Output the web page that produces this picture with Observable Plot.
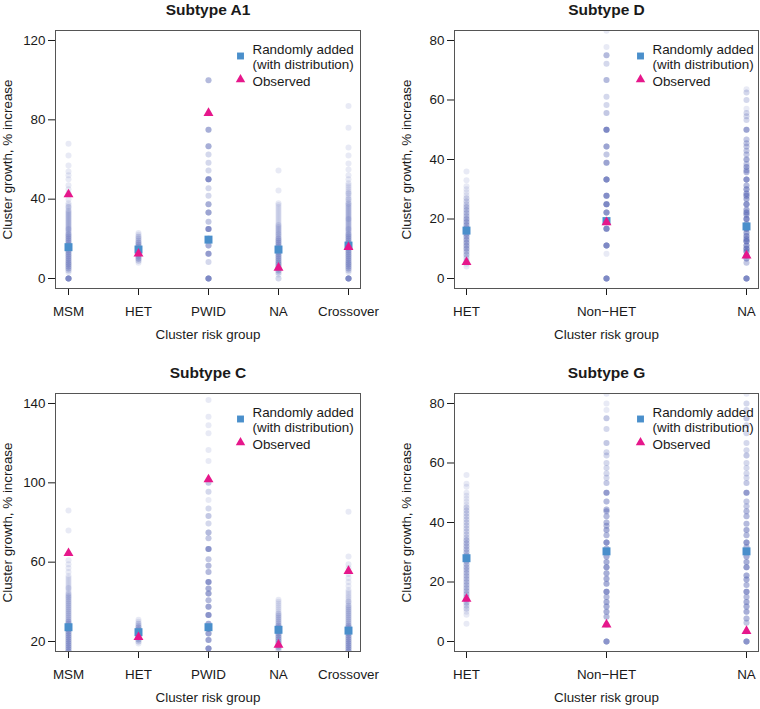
<!DOCTYPE html>
<html><head><meta charset="utf-8">
<script src="https://cdn.jsdelivr.net/npm/d3@7"></script>
<script src="https://cdn.jsdelivr.net/npm/@observablehq/plot@0.6"></script>
<style>
body{margin:0;background:#fff;}
#wrap{position:relative;width:760px;height:709px;overflow:hidden;background:#fff;}
#wrap > div{position:absolute;}
</style></head><body><div id="wrap"></div>
<script>
// ---------- Subtype A1 ----------
const A1_cats = ["MSM","HET","PWID","NA","Crossover"];
const A1_mean = [15.8, 14.6, 19.6, 14.6, 16.6];
const A1_obs  = [42.4, 12.5, 83.4, 5.4, 15.8];
const A1_ticks = [0, 40, 80, 120];
// [value, count] pairs of the randomly added simulations
const A1_MSM = [[0,10],[3,1],[4,2],[5,3],[6,3],[7,3],[8,3],[9,3],[10,3],[11,3],[12,3],[13,3],[14,3],[15,3],[16,3],[17,3],[18,3],[19,3],[20,3],[21,3],[22,3],[23,2],[24,2],[25,3],[26,2],[27,2],[28,2],[29,2],[30,2],[31,2],[32,2],[33,2],[34,2],[35,1],[36,2],[37,1],[38,1],[40,1],[43,1],[45,1],[47,1],[50,1],[52,1],[54,1],[57,1],[62,1],[68,1]];
const A1_HET = [[8,1],[9,2],[10,3],[11,3],[12,3],[13,3],[14,3],[15,3],[16,3],[17,3],[18,3],[19,2],[20,2],[21,2],[22,1],[23,1]];
const A1_PWID = [[0,10],[8.3,2],[12.5,7],[16.7,5],[20,5],[25,9],[28.6,3],[33.3,6],[37.5,5],[41.7,2],[45.5,2],[50,9],[54.5,2],[58.3,2],[62.5,2],[66.7,5],[75,5],[83.3,1],[100,4]];
const A1_NA = [[0,2],[2,1],[3,2],[4,3],[5,3],[6,3],[7,3],[8,3],[9,3],[10,3],[11,3],[12,3],[13,3],[14,3],[15,3],[16,3],[17,3],[18,3],[19,3],[20,3],[21,2],[22,2],[23,2],[24,2],[25,2],[26,2],[27,2],[28,1],[29,1],[30,1],[31,1],[32,1],[33,1],[34,1],[35,1],[36,1],[37,1],[38,1],[44.4,1],[54.5,1]];
const A1_Cross = [[0,10],[3,1],[4,2],[5,3],[6,3],[7,3],[8,3],[9,3],[10,3],[11,3],[12,3],[13,3],[14,3],[15,3],[16,3],[17,3],[18,3],[19,3],[20,3],[21,3],[22,3],[23,2],[24,2],[25,3],[26,2],[27,2],[28,2],[29,2],[30,3],[31,2],[32,2],[33,2],[34,2],[35,2],[36,2],[37,2],[38,2],[39,1],[40,2],[41,1],[42,1],[43,2],[44,1],[45,1],[46,1],[47,1],[48,1],[50,1],[52,1],[55,1],[58,1],[62,1],[66,1],[76,1],[87,1]];

// ---------- Subtype D ----------
const D_cats = ["HET","Non\u2212HET","NA"];
const D_mean = [16.1, 19.3, 17.5];
const D_obs  = [5.5, 18.9, 7.7];
const D_ticks = [0, 20, 40, 60, 80];
const D_HET = [[4,1],[5,1],[6,2],[7,2],[8,3],[9,3],[10,4],[11,4],[12,4],[13,4],[14,4],[15,4],[16,4],[17,4],[18,4],[19,4],[20,4],[21,3],[22,3],[23,3],[24,3],[25,2],[26,2],[27,2],[28,1],[29,1],[30,1],[31,1],[33,1],[36,1]];
const D_NonHET = [[0,10],[8.3,1],[11.1,10],[16.7,10],[19.4,6],[22.2,8],[25,10],[27.8,9],[33.3,10],[38.9,6],[41.7,3],[44.4,6],[50,10],[55.6,3],[58.3,2],[61.1,2],[66.7,4],[72.2,2],[75,4],[77.8,1],[83.3,1]];
const D_NA = [[0,10],[5.3,3],[6.7,5],[7.7,4],[9.1,6],[10,8],[11.1,6],[12.5,8],[13.3,6],[14.3,6],[15.4,5],[16.7,8],[17.6,5],[18.2,5],[20,9],[21.4,5],[22.2,6],[23.1,5],[25,8],[26.7,5],[27.8,6],[28.6,5],[30,6],[31.3,4],[33.3,8],[35.7,4],[36.4,4],[37.5,5],[38.5,3],[40,5],[41.7,3],[42.9,3],[44.4,3],[45.5,3],[46.7,3],[50,6],[53.3,2],[54.5,2],[55.6,2],[57.1,1],[60,2],[62.5,2],[63.6,1]];

// ---------- Subtype C ----------
const C_cats = ["MSM","HET","PWID","NA","Crossover"];
const C_mean = [27.2, 24.7, 27.2, 25.9, 25.5];
const C_obs  = [64.5, 22.2, 101.7, 18.3, 55.5];
const C_ticks = [20, 60, 100, 140];
const C_MSM = [[15,3],[16,3],[17,3],[18,3],[19,3],[20,3],[21,3],[22,3],[23,3],[24,3],[25,3],[26,3],[27,3],[28,3],[29,3],[30,3],[31,2],[32,2],[33,2],[34,2],[35,2],[36,2],[37,2],[38,2],[39,2],[40,2],[41,2],[42,2],[43,2],[44,2],[45,1],[46,1],[47,2],[48,1],[49,1],[50,1],[51,1],[52,1],[53,1],[55,1],[57,1],[59,1],[61,1],[76,1],[86,1]];
const C_HET = [[19,1],[20,2],[21,3],[22,3],[23,3],[24,3],[25,3],[26,3],[27,3],[28,2],[29,2],[30,1],[31,1]];
const C_PWID = [[16.5,8],[20.7,6],[24,6],[26.5,8],[29,5],[33.3,8],[37.5,6],[40.8,4],[44.2,6],[46.7,5],[50,8],[55,4],[58.2,4],[61.5,3],[66.7,8],[72,3],[75,4],[79.5,2],[83.3,3],[87,2],[91.3,1],[95.5,2],[100,3],[111,1],[116.5,1],[125,1],[129,1],[133.3,1],[141.7,1]];
const C_NA = [[16,2],[17,3],[18,3],[19,3],[20,3],[21,3],[22,3],[23,3],[24,3],[25,3],[26,3],[27,3],[28,3],[29,2],[30,2],[31,2],[32,2],[33,2],[34,2],[35,1],[36,1],[37,1],[38,1],[39,1],[40,1],[41,1]];
const C_Cross = [[15,3],[16,3],[17,3],[18,3],[19,3],[20,3],[21,3],[22,3],[23,3],[24,3],[25,3],[26,3],[27,3],[28,3],[29,2],[30,2],[31,2],[32,2],[33,2],[34,2],[35,2],[36,2],[37,2],[38,2],[39,1],[40,2],[41,1],[42,1],[43,1],[44,1],[45,1],[46,1],[48,1],[50,1],[52,1],[54,1],[57,1],[59,1],[62.8,1],[85.4,1]];

// ---------- Subtype G ----------
const G_cats = ["HET","Non\u2212HET","NA"];
const G_mean = [28.0, 30.3, 30.3];
const G_obs  = [14.3, 5.7, 3.5];
const G_ticks = [0, 20, 40, 60, 80];
const G_HET = [[6,1],[9,1],[10,1],[11,2],[12,2],[13,3],[14,3],[15,3],[16,3],[17,3],[18,3],[19,3],[20,3],[21,3],[22,3],[23,3],[24,3],[25,3],[26,3],[27,3],[28,3],[29,3],[30,3],[31,3],[32,3],[33,3],[34,3],[35,2],[36,2],[37,2],[38,2],[39,2],[40,2],[41,2],[42,2],[43,2],[44,2],[45,2],[46,1],[47,1],[48,1],[49,1],[50,1],[52,1],[53,1],[56,1]];
const G_NonHET = [[0,8],[5.6,2],[8.3,4],[10,5],[11.8,5],[13.3,5],[15,4],[16.7,8],[19.4,5],[21.1,5],[22.9,5],[25,7],[26.7,5],[28.6,5],[30.3,4],[31.3,4],[33.3,8],[35.7,4],[37.5,5],[38.9,4],[40,4],[42.1,4],[43.8,4],[44.4,4],[47.1,4],[50,7],[53.3,3],[55,2],[56.5,2],[58.3,2],[60,2],[62.5,2],[63.6,2],[66.7,3],[71.4,2],[75,3],[77.8,1],[80,1],[83.3,1]];
const G_NA = [[0,8],[3.3,1],[6.3,3],[7.7,4],[10,5],[11.8,5],[13.3,5],[15,4],[16.7,7],[19,4],[20.8,5],[22.2,5],[25,7],[26.7,5],[28.6,5],[31.8,4],[33.3,7],[35.7,4],[37.5,5],[39.6,4],[42.1,4],[43.8,4],[45.5,3],[47.1,3],[50,7],[53.3,3],[55,2],[56.5,2],[58.3,2],[60,2],[62.5,3],[64.3,2],[66.7,2],[70,2],[72.7,2],[75,3],[77.8,2],[80,2],[83.3,1]];

const DOT = "#5a6cb8", BLUE = "#4a8fcb", PINK = "#e6178b", FRAME = "#555555", INK = "#1a1a1a";
const FONT = "'Liberation Sans', Arial, Helvetica, sans-serif";
const FS = 13.4;

function panel(o) {
  const rows = o.cats.flatMap((c, i) => o.dist[i].flatMap(([v, n]) => Array.from({length: n}, () => ({cat: c, v}))));
  const sum = o.cats.map((c, i) => ({cat: c, mean: o.mean[i], obs: o.obs[i]}));
  const txt = {fontSize: FS, fill: INK, lineAnchor: "middle"};
  const svg = Plot.plot({
    width: 380, height: 346,
    marginTop: 30, marginBottom: 58, marginLeft: o.ml, marginRight: o.mr,
    style: {fontFamily: FONT, fontSize: FS + "px", color: INK, background: "transparent", overflow: "visible"},
    x: {type: "point", domain: o.cats, padding: o.pad, tickSize: 7, tickPadding: 11, label: null},
    y: {domain: o.domain, ticks: o.ticks, tickSize: 7, tickPadding: 3, label: null},
    marks: [
      Plot.dot(rows, {x: "cat", y: "v", r: 3, fill: DOT, fillOpacity: 0.14, clip: true}),
      Plot.dot(sum, {x: "cat", y: "mean", symbol: "square", r: 4.5, fill: BLUE}),
      Plot.dot(sum, {x: "cat", y: "obs", symbol: "triangle", r: 3.7, fill: PINK}),
      Plot.frame({stroke: FRAME, strokeWidth: 1}),
      Plot.text([o.title], {...txt, frameAnchor: "top", textAnchor: "middle", dy: -20, fontWeight: "bold", fontSize: 15.5}),
      Plot.text(["Cluster risk group"], {...txt, frameAnchor: "bottom", textAnchor: "middle", dy: 46}),
      Plot.text(["Cluster growth, % increase"], {...txt, frameAnchor: "left", textAnchor: "middle", dx: -48, rotate: -90}),
      Plot.dot([0], {frameAnchor: "top-right", dx: o.lx - 12, dy: 25.5, symbol: "square", r: 3.9, fill: BLUE}),
      Plot.dot([0], {frameAnchor: "top-right", dx: o.lx - 12, dy: 49, symbol: "triangle", r: 3.5, fill: PINK}),
      Plot.text(["Randomly added"], {...txt, frameAnchor: "top-right", dx: o.lx, dy: 19.5, textAnchor: "start"}),
      Plot.text(["(with distribution)"], {...txt, frameAnchor: "top-right", dx: o.lx, dy: 34.5, textAnchor: "start"}),
      Plot.text(["Observed"], {...txt, frameAnchor: "top-right", dx: o.lx, dy: 51, textAnchor: "start"})
    ]
  });
  const d = document.createElement("div");
  d.style.left = o.left + "px";
  d.style.top = o.top + "px";
  d.appendChild(svg);
  document.getElementById("wrap").appendChild(d);
}

panel({title: "Subtype A1", cats: A1_cats, mean: A1_mean, obs: A1_obs, ticks: A1_ticks,
  dist: [A1_MSM, A1_HET, A1_PWID, A1_NA, A1_Cross], domain: [-5.04, 125.04], pad: 0.16,
  left: 0, top: 0, ml: 55, mr: 20, lx: -108});
panel({title: "Subtype D", cats: D_cats, mean: D_mean, obs: D_obs, ticks: D_ticks,
  dist: [D_HET, D_NonHET, D_NA], domain: [-3.36, 83.36], pad: 0.08,
  left: 380, top: 0, ml: 74, mr: 2, lx: -106});
panel({title: "Subtype C", cats: C_cats, mean: C_mean, obs: C_obs, ticks: C_ticks,
  dist: [C_MSM, C_HET, C_PWID, C_NA, C_Cross], domain: [14.96, 145.04], pad: 0.16,
  left: 0, top: 363, ml: 55, mr: 20, lx: -108});
panel({title: "Subtype G", cats: G_cats, mean: G_mean, obs: G_obs, ticks: G_ticks,
  dist: [G_HET, G_NonHET, G_NA], domain: [-3.36, 83.36], pad: 0.08,
  left: 380, top: 363, ml: 74, mr: 2, lx: -106});
</script></body></html>
